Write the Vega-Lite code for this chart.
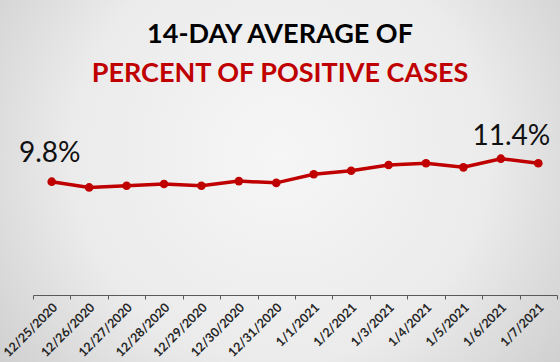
{
  "$schema": "https://vega.github.io/schema/vega-lite/v6.json",
  "width": 560,
  "height": 362,
  "autosize": {"type": "none"},
  "padding": 0,
  "background": "#dcdcdc",
  "config": {
    "font": "Lato",
    "view": {
      "stroke": null,
      "fill": {
        "gradient": "radial",
        "x1": 0.5, "y1": 0.45, "r1": 0,
        "x2": 0.5, "y2": 0.45, "r2": 0.75,
        "stops": [
          {"offset": 0, "color": "#f6f6f6"},
          {"offset": 0.5, "color": "#ebebeb"},
          {"offset": 1, "color": "#c2c2c2"}
        ]
      }
    }
  },
  "title": {
    "text": "14-DAY AVERAGE OF",
    "subtitle": "PERCENT OF POSITIVE CASES",
    "anchor": "middle",
    "font": "Lato",
    "fontSize": 27,
    "fontWeight": "bold",
    "color": "#000000",
    "subtitleFont": "Lato",
    "subtitleFontSize": 27,
    "subtitleFontWeight": "bold",
    "subtitleColor": "#c00000",
    "subtitlePadding": 12,
    "offset": -88
  },
  "data": {
    "values": [
      {"date": "12/25/2020", "pct": 9.8, "label": "9.8%"},
      {"date": "12/26/2020", "pct": 9.3},
      {"date": "12/27/2020", "pct": 9.45},
      {"date": "12/28/2020", "pct": 9.6},
      {"date": "12/29/2020", "pct": 9.45},
      {"date": "12/30/2020", "pct": 9.85},
      {"date": "12/31/2020", "pct": 9.7},
      {"date": "1/1/2021", "pct": 10.45},
      {"date": "1/2/2021", "pct": 10.75},
      {"date": "1/3/2021", "pct": 11.25},
      {"date": "1/4/2021", "pct": 11.4},
      {"date": "1/5/2021", "pct": 11.05},
      {"date": "1/6/2021", "pct": 11.8},
      {"date": "1/7/2021", "pct": 11.4, "label": "11.4%"}
    ]
  },
  "encoding": {
    "x": {
      "field": "date",
      "type": "ordinal",
      "sort": null,
      "scale": {"type": "band", "range": [33, 557], "paddingInner": 0, "paddingOuter": 0},
      "axis": {
        "title": null,
        "orient": "bottom",
        "offset": -67,
        "tickBand": "extent",
        "labelAngle": -45,
        "labelAlign": "right",
        "labelBaseline": "middle",
        "labelFont": "Lato",
        "labelFontWeight": "bold",
        "labelFontSize": 12.5,
        "labelColor": "#262626",
        "labelOffset": 3,
        "domainColor": "#595959",
        "domainWidth": 1.2,
        "tickColor": "#595959",
        "tickSize": 4,
        "labelPadding": 6,
        "grid": false
      }
    },
    "y": {
      "field": "pct",
      "type": "quantitative",
      "scale": {"domain": [-5.88, 25.6], "nice": false, "zero": false},
      "axis": null
    }
  },
  "layer": [
    {"mark": {"type": "line", "color": "#c00000", "strokeWidth": 3.5}},
    {"mark": {"type": "circle", "color": "#c00000", "opacity": 1, "size": 75}},
    {
      "transform": [{"filter": "datum.date == '12/25/2020'"}],
      "mark": {"type": "text", "font": "Lato", "fontSize": 28, "color": "#111111", "baseline": "alphabetic", "align": "center", "dx": -2, "dy": -20},
      "encoding": {"text": {"field": "label"}}
    },
    {
      "transform": [{"filter": "datum.date == '1/7/2021'"}],
      "mark": {"type": "text", "font": "Lato", "fontSize": 28, "color": "#111111", "baseline": "alphabetic", "align": "right", "dx": 12, "dy": -18},
      "encoding": {"text": {"field": "label"}}
    }
  ]
}
